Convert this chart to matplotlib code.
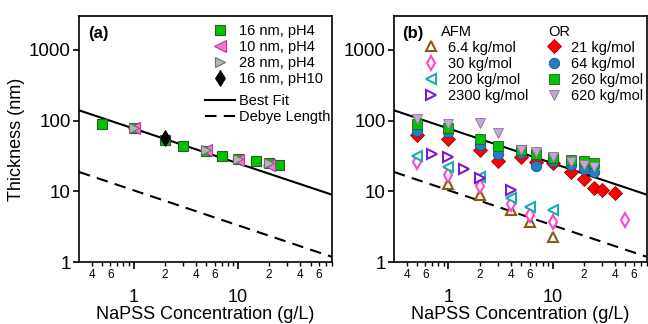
import matplotlib
matplotlib.use("Agg")
import matplotlib.pyplot as plt
from matplotlib.ticker import FixedLocator, FixedFormatter, NullLocator
from matplotlib.lines import Line2D

plt.rcParams['font.family'] = ['Liberation Sans', 'DejaVu Sans']

# ---------------- data ----------------
# fit lines (endpoints on the log-log axes)
fit_x = [0.3, 80]
bestfit_y = [140, 9.0]
debye_y = [18.8, 1.19]

# panel (a)
a16_x = [0.5, 1, 2, 3, 5, 7, 10, 15, 20, 25]
a16_y = [90, 79, 53, 44, 37, 32, 29, 27, 25, 24]
a10_x = [1, 5, 10, 20]
a10_y = [80, 38, 28, 24]
a28_x = [1, 5, 10, 20]
a28_y = [80, 38, 29, 25]
a16p10_x = [2]
a16p10_y = [56]

# panel (b) OR
or_x = [0.5, 1, 2, 3, 5, 7, 10, 15, 20, 25]
or21_x = [0.5, 1, 2, 3, 5, 7, 10, 15, 20, 25, 30, 40]
or21_y = [62, 55, 38, 27, 31, 26, 25, 19, 15, 11, 10.4, 9.6]
or64_y = [72, 69, 46, 34, 35, 23, 27, 24, 21, 18.5]
or260_y = [89, 80, 55, 44, 38, 34, 30, 28, 27, 25]
or620_y = [104, 90, 93, 67, 39, 36, 31, 26, 24, 22]

# panel (b) AFM
afm6_x = [1, 2, 4, 6, 10]
afm6_y = [12.9, 8.8, 5.4, 3.7, 2.3]
afm30_x = [0.5, 1, 2, 4, 6, 10, 50]
afm30_y = [26, 17, 12, 6.6, 4.6, 3.7, 4.0]
afm200_x = [0.5, 1, 2, 4, 6, 10]
afm200_y = [32, 22, 16, 8.1, 6.0, 5.4]
afm2300_x = [0.7, 1, 1.4, 2, 4]
afm2300_y = [34, 31, 21, 15.5, 10.6]

x_major = [1, 10]
x_major_labels = ["1", "10"]
x_minor = [0.4, 0.5, 0.6, 0.7, 0.8, 0.9, 2, 3, 4, 5, 6, 7, 8, 9, 20, 30, 40, 50, 60, 70, 80]
x_minor_labels = ["4", "", "6", "", "", "", "2", "", "4", "", "6", "", "", "", "2", "", "4", "", "6", "", ""]
y_major = [1, 10, 100, 1000]
y_major_labels = ["1", "10", "100", "1000"]

# ---------------- figure ----------------
fig = plt.figure(figsize=(6.48, 3.24), dpi=100)
axa = fig.add_axes([0.122, 0.191, 0.390, 0.759])
axb = fig.add_axes([0.608, 0.191, 0.390, 0.759])

DASH = (0, (5.5, 3.5))

def style(ax):
    ax.set_xscale('log')
    ax.set_yscale('log')
    ax.set_xlim(0.3, 80)
    ax.set_ylim(1, 3000)
    ax.xaxis.set_major_locator(FixedLocator(x_major))
    ax.xaxis.set_major_formatter(FixedFormatter(x_major_labels))
    ax.xaxis.set_minor_locator(FixedLocator(x_minor))
    ax.xaxis.set_minor_formatter(FixedFormatter(x_minor_labels))
    ax.yaxis.set_major_locator(FixedLocator(y_major))
    ax.yaxis.set_major_formatter(FixedFormatter(y_major_labels))
    ax.yaxis.set_minor_locator(NullLocator())
    ax.tick_params(axis='x', which='major', length=5, width=1.2, pad=14, labelsize=13, direction='out')
    ax.tick_params(axis='x', which='minor', length=3, width=1.0, pad=2, labelsize=8.5, direction='out')
    ax.tick_params(axis='y', which='major', length=4, width=1.2, pad=2, labelsize=13.5, direction='out')
    for s in ax.spines.values():
        s.set_linewidth(1.2)
    ax.plot(fit_x, bestfit_y, color='black', lw=1.5, zorder=1)
    ax.plot(fit_x, debye_y, color='black', lw=1.5, ls=DASH, zorder=1)
    ax.set_xlabel("NaPSS Concentration (g/L)", fontsize=13, labelpad=0)

style(axa)
style(axb)
axa.set_ylabel("Thickness (nm)", fontsize=13, labelpad=3)

# styles
s16 = dict(marker='s', ms=6.5, mfc='#00c400', mec='#2a5a2a', mew=0.8)
s10 = dict(marker='<', ms=8, mfc='#f27ad2', mec='#b04090', mew=0.8)
s28 = dict(marker='>', ms=7.5, mfc='#b4b4b4', mec='#707070', mew=0.8)
s16p10 = dict(marker='d', ms=8.5, mfc='black', mec='black', mew=0.6)

# panel (a) markers
axa.plot(a16_x, a16_y, ls='none', zorder=3, **s16)
axa.plot(a10_x, a10_y, ls='none', zorder=4, **s10)
axa.plot(a28_x, a28_y, ls='none', zorder=5, **s28)
axa.plot(a16p10_x, a16p10_y, ls='none', zorder=6, **s16p10)

leg_kw = dict(frameon=False, fontsize=10.5, handletextpad=0.3,
              labelspacing=0.14, borderpad=0, borderaxespad=0)
h_a1 = [Line2D([], [], ls='none', **s) for s in (s16, s10, s28, s16p10)]
lg1 = axa.legend(h_a1, ["16 nm, pH4", "10 nm, pH4", "28 nm, pH4", "16 nm, pH10"],
                 loc='upper left', bbox_to_anchor=(0.50, 0.968), handlelength=2.0, **leg_kw)
axa.add_artist(lg1)
h_a2 = [Line2D([], [], color='black', lw=1.5), Line2D([], [], color='black', lw=1.5, ls=DASH)]
axa.legend(h_a2, ["Best Fit", "Debye Length"], loc='upper left', bbox_to_anchor=(0.50, 0.684),
           handlelength=2.0, **leg_kw)
axa.text(0.034, 0.93, "(a)", transform=axa.transAxes, fontsize=12, fontweight='bold', ha='left', va='center')

# panel (b) styles
o21 = dict(marker='D', ms=7, mfc='#ff0000', mec='#a00000', mew=0.6)
o64 = dict(marker='o', ms=7.5, mfc='#1f7fc4', mec='#1a4f80', mew=0.6)
o260 = dict(marker='s', ms=6.5, mfc='#00c400', mec='#2a5a2a', mew=0.6)
o620 = dict(marker='v', ms=7.5, mfc='#c6a6d6', mec='#8a7096', mew=0.6)
f6 = dict(marker='^', ms=6.5, mfc='white', mec='#8a5a10', mew=1.5)
f30 = dict(marker='d', ms=7, mfc='white', mec='#ff44d4', mew=1.5)
f200 = dict(marker='<', ms=6.5, mfc='white', mec='#1aaeae', mew=1.5)
f2300 = dict(marker='>', ms=6.5, mfc='white', mec='#7a1ad0', mew=1.5)

axb.plot(or21_x, or21_y, ls='none', zorder=3, **o21)
axb.plot(or_x, or64_y, ls='none', zorder=4, **o64)
axb.plot(or_x, or260_y, ls='none', zorder=5, **o260)
axb.plot(or_x, or620_y, ls='none', zorder=6, **o620)
axb.plot(afm6_x, afm6_y, ls='none', zorder=3, **f6)
axb.plot(afm30_x, afm30_y, ls='none', zorder=3, **f30)
axb.plot(afm200_x, afm200_y, ls='none', zorder=3, **f200)
axb.plot(afm2300_x, afm2300_y, ls='none', zorder=3, **f2300)

blank = Line2D([], [], ls='none')
handles_b = [blank] + [Line2D([], [], ls='none', **s) for s in (f6, f30, f200, f2300)] + \
            [blank] + [Line2D([], [], ls='none', **s) for s in (o21, o64, o260, o620)]
labels_b = ["AFM", "6.4 kg/mol", "30 kg/mol", "200 kg/mol", "2300 kg/mol",
            "OR", "21 kg/mol", "64 kg/mol", "260 kg/mol", "620 kg/mol"]
lgb = axb.legend(handles_b, labels_b, ncol=2, loc='upper left', bbox_to_anchor=(0.097, 0.966),
                 handlelength=1.7, columnspacing=0.96, **leg_kw)
texts = lgb.get_texts()
# shift group headers left of the entry labels, as in the original
texts[0].set_x(-7)
texts[5].set_x(-23)
axb.text(0.034, 0.93, "(b)", transform=axb.transAxes, fontsize=12, fontweight='bold', ha='left', va='center')

fig.savefig("out.png", dpi=100)
